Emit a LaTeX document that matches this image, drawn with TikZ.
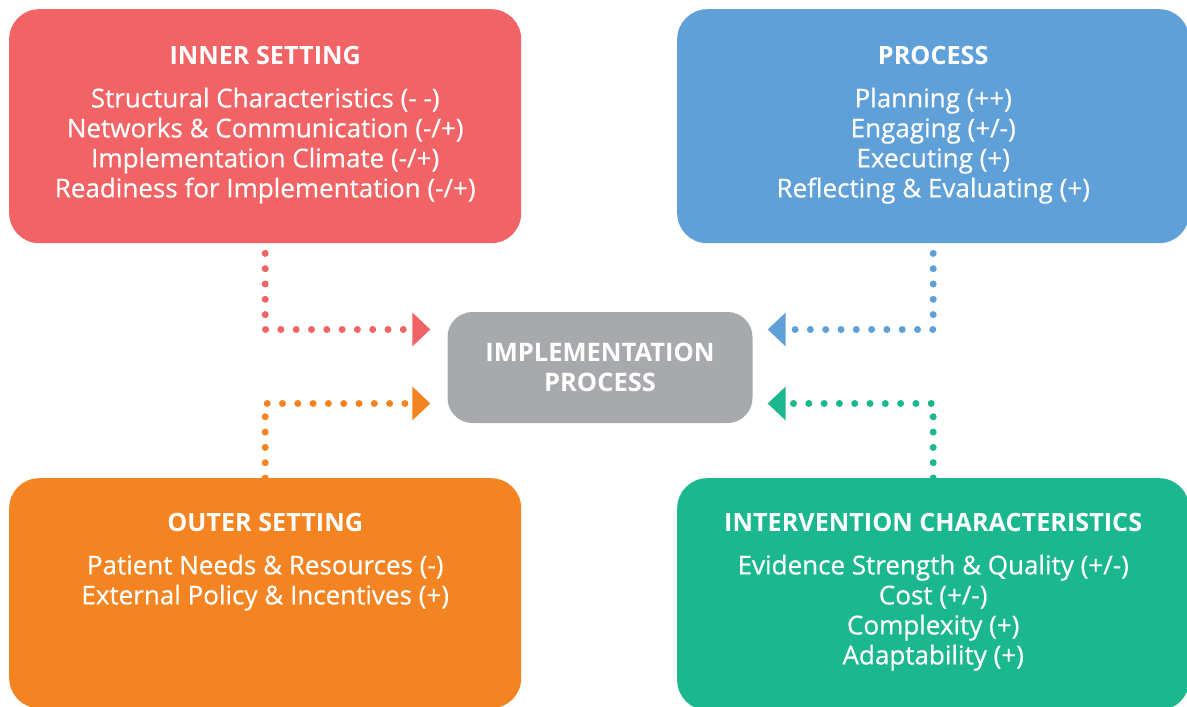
\documentclass[tikz,border=0pt]{standalone}
\usepackage{fontspec}
\setmainfont{Open Sans}
\newfontfamily\bodyfont[FakeBold=0.5]{Open Sans}
\usetikzlibrary{arrows.meta}
\usetikzlibrary{positioning}

\definecolor{innerred}{HTML}{F16364}
\definecolor{processblue}{HTML}{5FA0D8}
\definecolor{outerorange}{HTML}{F38421}
\definecolor{intgreen}{HTML}{1BB890}
\definecolor{implgray}{HTML}{A7A9AC}

\begin{document}
\begin{tikzpicture}[%
x=1pt, y=-1pt,
box/.style={rounded corners=30pt, minimum width=512pt, minimum height=234pt, inner sep=0pt, anchor=north west},
title/.style={anchor=base, text=white, inner sep=0pt, font=\fontsize{25.2}{30}\selectfont\bfseries},
items/.style={align=center, text=white, inner sep=0pt, font=\fontsize{26}{30}\selectfont\bodyfont},
dots/.style={line width=7pt, line cap=round, dash pattern=on 0pt off 15.3pt,
  -{Triangle[length=18pt, width=34pt, line width=0pt]}},
]

\useasboundingbox (0,0) rectangle (1187,707);

% the four boxes
\node[box, fill=innerred] (inner) at (9,9) {};
\node[box, fill=processblue] (process) at (677,9) {};
\node[box, fill=outerorange, minimum height=230pt] (outer) at (9,478) {};
\node[box, fill=intgreen, minimum height=232pt] (interv) at (677,478) {};

% middle
\node[fill=implgray, rounded corners=25pt, minimum width=305pt, minimum height=111pt,
  align=center, text=white, font=\fontsize{25.5}{30}\selectfont\bfseries] (impl) at (600,367.5)
  {IMPLEMENTATION\\PROCESS};

% texts
\node[title] (innertitle) at ([yshift=-55pt]inner.north) {INNER SETTING};
\node[items, below=23pt of innertitle] (inneritems) {Structural Characteristics (- -)\\
  Networks \& Communication (-/+)\\ Implementation Climate (-/+)\\
  Readiness for Implementation (-/+)};

\node[title] (processtitle) at ([yshift=-55pt]process.north) {PROCESS};
\node[items, below=23pt of processtitle] (processitems) {Planning (++)\\
  Engaging (+/-)\\ Executing (+)\\ Reflecting \& Evaluating (+)};

\node[title] (outertitle) at ([yshift=-53pt]outer.north) {OUTER SETTING};
\node[items, below=23pt of outertitle] (outeritems) {Patient Needs \& Resources (-)\\
  External Policy \& Incentives (+)};

\node[title] (intervtitle) at ([yshift=-53pt]interv.north) {INTERVENTION CHARACTERISTICS};
\node[items, below=23pt of intervtitle] (intervitems) {Evidence Strength \& Quality (+/-)\\
  Cost (+/-)\\ Complexity (+)\\ Adaptability (+)};

% dotted connectors
\coordinate (redtip) at ([xshift=-17pt, yshift=38pt]impl.west);
\coordinate (orangetip) at ([xshift=-17pt, yshift=-36pt]impl.west);
\coordinate (bluetip) at ([xshift=15pt, yshift=38pt]impl.east);
\coordinate (greentip) at ([xshift=15pt, yshift=-36pt]impl.east);

\draw[dots, innerred] ([yshift=-10pt]inner.south) |- (redtip);
\draw[dots, outerorange] (outer.north) |- (orangetip);
\draw[dots, processblue] ([yshift=-10pt]process.south) |- (bluetip);
\draw[dots, intgreen] (interv.north) |- (greentip);

\end{tikzpicture}
\end{document}
